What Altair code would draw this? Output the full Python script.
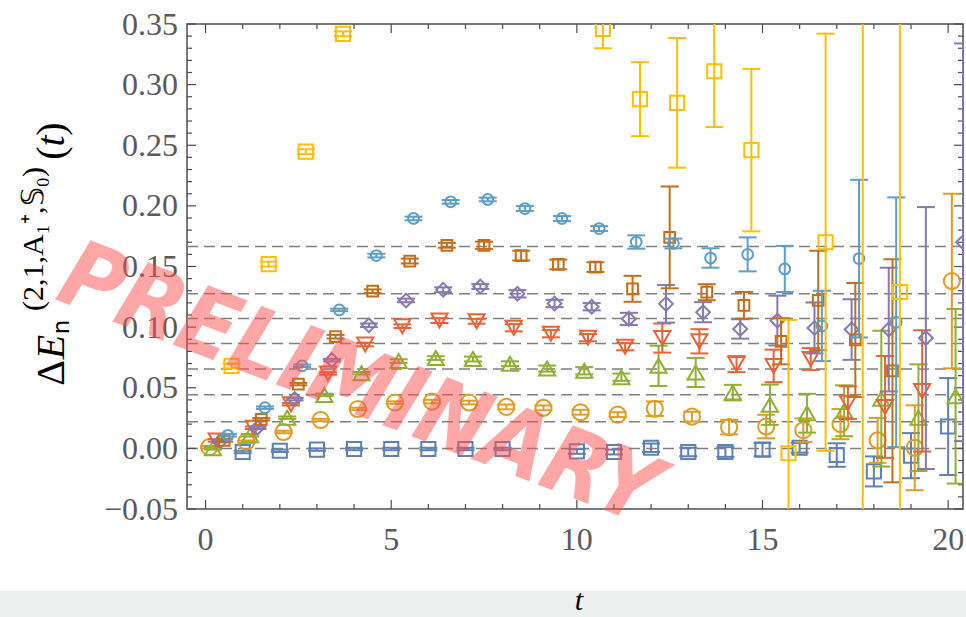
import altair as alt
import pandas as pd

# ---------------------------------------------------------------------------
# Effective energy shifts Delta E_n(t) for the levels n = 0..7.
# Each level is plotted at t + shift so that the points do not overlap.
# ---------------------------------------------------------------------------
shifts = [0.0, 0.1, 0.2, 0.3, 0.4, 0.5, 0.6, 0.7]

n0_t = [1, 2, 3, 4, 5, 6, 7, 8, 10, 11, 12, 13, 14, 15, 16, 17, 18, 19, 20]
n0_v = [-0.003, -0.002, -0.001, -0.0005, -0.0005, -0.0005, -0.0005, -0.0005, -0.0025,
        -0.003, 0.0005, -0.003, -0.003, -0.001, 0.0005, -0.0055, -0.019, -0.006, 0.018]
n0_e = [0.001, 0.001, 0.001, 0.001, 0.001, 0.001, 0.001, 0.001, 0.002, 0.002, 0.0035,
        0.0035, 0.004, 0.0055, 0.004, 0.0097, 0.0124, 0.0186, 0.040]

n1_t = list(range(0, 21))
n1_v = [0.001, 0.0055, 0.0135, 0.0234, 0.0325, 0.0378, 0.0386, 0.0378, 0.0342, 0.0334,
        0.0298, 0.0278, 0.0327, 0.0262, 0.0175, 0.018, 0.015, 0.020, 0.0066, 0.0005, 0.138]
n1_e = [0.001, 0.001, 0.001, 0.001, 0.001, 0.001, 0.0015, 0.0015, 0.002, 0.002, 0.002,
        0.002, 0.006, 0.004, 0.006, 0.0097, 0.0097, 0.0124, 0.0185, 0.035, 0.072]

n2_t = list(range(0, 21))
n2_v = [0.0, 0.0108, 0.0253, 0.0441, 0.062, 0.072, 0.0745, 0.0737, 0.0698, 0.0658,
        0.064, 0.0587, 0.0681, 0.0626, 0.046, 0.036, 0.029, 0.031, 0.041, 0.0253, 0.043]
n2_e = [0.001, 0.001, 0.001, 0.001, 0.001, 0.0015, 0.0015, 0.002, 0.002, 0.0025, 0.003,
        0.003, 0.0166, 0.012, 0.0064, 0.0166, 0.016, 0.021, 0.056, 0.044, 0.072]

n3_t = list(range(0, 20))
n3_v = [0.0066, 0.017, 0.0364, 0.0618, 0.0857, 0.1008, 0.1054, 0.1048, 0.0995, 0.0946,
        0.0913, 0.0839, 0.091, 0.0883, 0.0695, 0.068, 0.0737, 0.0377, 0.0342, 0.0474]
n3_e = [0.001, 0.001, 0.001, 0.001, 0.0015, 0.0015, 0.002, 0.002, 0.003, 0.003, 0.003,
        0.003, 0.012, 0.010, 0.0066, 0.0134, 0.009, 0.0135, 0.042, 0.050]

n4_t = list(range(0, 21))
n4_v = [0.006, 0.017, 0.0406, 0.0728, 0.1015, 0.122, 0.1308, 0.1335, 0.1275, 0.1195,
        0.1168, 0.1068, 0.1192, 0.1123, 0.0985, 0.1054, 0.0993, 0.098, 0.098, 0.091, 0.170]
n4_e = [0.001, 0.001, 0.001, 0.001, 0.0015, 0.0015, 0.002, 0.002, 0.003, 0.003, 0.003,
        0.005, 0.0155, 0.0083, 0.008, 0.0205, 0.021, 0.025, 0.051, 0.108, 0.164]

n5_t = list(range(0, 19))
n5_v = [0.0066, 0.024, 0.053, 0.0921, 0.1296, 0.1545, 0.1675, 0.1675, 0.159, 0.1517,
        0.1495, 0.1316, 0.174, 0.1288, 0.118, 0.0883, 0.122, 0.0894, 0.064]
n5_e = [0.001, 0.001, 0.001, 0.0015, 0.0015, 0.002, 0.002, 0.003, 0.004, 0.004, 0.004,
        0.0107, 0.042, 0.0066, 0.011, 0.019, 0.041, 0.047, 0.092]

n6_t = list(range(0, 19))
n6_v = [0.0108, 0.0336, 0.0681, 0.1142, 0.159, 0.1896, 0.2033, 0.2053, 0.1978, 0.1896,
        0.1813, 0.1702, 0.169, 0.157, 0.160, 0.148, 0.101, 0.1565, 0.104]
n6_e = [0.001, 0.001, 0.001, 0.001, 0.0015, 0.0015, 0.0015, 0.0015, 0.002, 0.002, 0.002,
        0.0055, 0.004, 0.008, 0.014, 0.019, 0.029, 0.065, 0.103]

n7_t = [0, 1, 2, 3, 10, 11, 12, 13, 14, 15, 16, 17, 18]
n7_v = [0.068, 0.152, 0.2447, 0.3419, 0.346, 0.288, 0.285, 0.311, 0.246, -0.004, 0.170,
        0.42, 0.129]
n7_e = [0.002, 0.002, 0.002, 0.002, 0.016, 0.0305, 0.0535, 0.046, 0.067, 0.110, 0.172,
        0.60, 0.30]

# non-interacting reference levels (dashed lines)
levels = [0.0, 0.022, 0.0443, 0.0655, 0.0865, 0.1072, 0.1276, 0.1664]

# axis tick values and their labels
x_labels = [0, 5, 10, 15, 20]
x_label_text = ["0", "5", "10", "15", "20"]
x_minor = [k for k in range(0, 21) if k % 5]
y_labels = [-0.05, 0.0, 0.05, 0.10, 0.15, 0.20, 0.25, 0.30, 0.35]
y_label_text = ["\u22120.05", "0.00", "0.05", "0.10", "0.15", "0.20", "0.25", "0.30", "0.35"]
y_minor = [k / 100 for k in range(-5, 36) if k % 5]

# ---------------------------------------------------------------------------
series = [
    ("n0", "#5E81B5", "square", 200, n0_t, n0_v, n0_e),
    ("n1", "#E19C24", "circle", 260, n1_t, n1_v, n1_e),
    ("n2", "#8FB032", "triangle-up", 260, n2_t, n2_v, n2_e),
    ("n3", "#EB6235", "triangle-down", 260, n3_t, n3_v, n3_e),
    ("n4", "#8778B3", "diamond", 190, n4_t, n4_v, n4_e),
    ("n5", "#C56E1A", "square", 115, n5_t, n5_v, n5_e),
    ("n6", "#5D9EC7", "circle", 115, n6_t, n6_v, n6_e),
    ("n7", "#FFBF00", "square", 200, n7_t, n7_v, n7_e),
]

W, H = 776, 485
AX = "#4d4d4d"
LABEL_FONT = "Liberation Serif"
LABEL_COLOR = "#5a5a5a"

xs = alt.Scale(domain=[-0.5, 20.4], nice=False, zero=False)
ys = alt.Scale(domain=[-0.05, 0.35], nice=False, zero=False)

layers = []

# dashed reference levels
lev_df = pd.DataFrame({"level": levels})
layers.append(
    alt.Chart(lev_df).mark_rule(color="#808080", strokeWidth=1.5, strokeDash=[11, 6]).encode(
        y=alt.Y("level:Q", scale=ys, axis=None),
        x=alt.value(0), x2=alt.value(W),
    )
)


# inward ticks on all four sides
def x_ticks(vals, length):
    d = pd.DataFrame({"t": vals})
    X = alt.X("t:Q", scale=xs, axis=None)
    bottom = alt.Chart(d).mark_rule(color=AX, strokeWidth=1.2).encode(
        x=X, y=alt.value(H), y2=alt.value(H - length))
    top = alt.Chart(d).mark_rule(color=AX, strokeWidth=1.2).encode(
        x=X, y=alt.value(0), y2=alt.value(length))
    return [bottom, top]


def y_ticks(vals, length):
    d = pd.DataFrame({"v": vals})
    Y = alt.Y("v:Q", scale=ys, axis=None)
    left = alt.Chart(d).mark_rule(color=AX, strokeWidth=1.2).encode(
        y=Y, x=alt.value(0), x2=alt.value(length))
    right = alt.Chart(d).mark_rule(color=AX, strokeWidth=1.2).encode(
        y=Y, x=alt.value(W), x2=alt.value(W - length))
    return [left, right]


layers += x_ticks(x_labels, 9)
layers += x_ticks(x_minor, 5)
layers += y_ticks(y_labels, 9)
layers += y_ticks(y_minor, 5)

# tick labels, placed through the same scales
xl = pd.DataFrame({"t": x_labels, "label": x_label_text})
layers.append(alt.Chart(xl).mark_text(
    font=LABEL_FONT, fontSize=32, color=LABEL_COLOR, align="center", baseline="alphabetic",
).encode(x=alt.X("t:Q", scale=xs, axis=None), y=alt.value(H + 41), text="label:N"))

yl = pd.DataFrame({"v": y_labels, "label": y_label_text})
layers.append(alt.Chart(yl).mark_text(
    font=LABEL_FONT, fontSize=32, color=LABEL_COLOR, align="right", baseline="alphabetic", dy=10.5,
).encode(y=alt.Y("v:Q", scale=ys, axis=None), x=alt.value(-9), text="label:N"))

# data: error bars, caps and open markers, level by level
for (name, color, shape, size, ts, vs, es), shift in zip(series, shifts):
    d = pd.DataFrame({
        "t": [t + shift for t in ts],
        "v": vs,
        "lo": [v - e for v, e in zip(vs, es)],
        "hi": [v + e for v, e in zip(vs, es)],
    })
    c = alt.Chart(d)
    X = alt.X("t:Q", scale=xs, axis=None)
    layers.append(c.mark_rule(color=color, strokeWidth=2, clip=True).encode(
        x=X, y=alt.Y("lo:Q", scale=ys, axis=None), y2="hi:Q"))
    for edge in ("lo", "hi"):
        layers.append(c.mark_rule(color=color, strokeWidth=2, clip=True,
                                  xOffset=-9, x2Offset=9).encode(
            x=X, x2="t:Q", y=alt.Y(f"{edge}:Q", scale=ys, axis=None)))
    layers.append(c.mark_point(shape=shape, size=size, filled=False, color=color,
                               strokeWidth=2, opacity=1, clip=True).encode(
        x=X, y=alt.Y("v:Q", scale=ys, axis=None)))

one = pd.DataFrame({"k": [0]})

# watermark
layers.append(alt.Chart(one).mark_text(
    text="PRELIMINARY", font="Liberation Sans Narrow, DejaVu Sans Condensed, DejaVu Sans",
    fontWeight="bold", fontStyle="italic", fontSize=93, angle=21,
    color="#ff5050", opacity=0.5, align="center", baseline="middle",
).encode(x=alt.value(172), y=alt.value(362)))

# grey strip under the plot holding the x title
layers.append(alt.Chart(one).mark_rect(color="#eef0ef", clip=False).encode(
    x=alt.value(-187), x2=alt.value(W + 3), y=alt.value(567), y2=alt.value(593)))
layers.append(alt.Chart(one).mark_text(
    text="t", font=LABEL_FONT, fontStyle="italic", fontSize=30, color="black",
    align="center", baseline="alphabetic").encode(x=alt.value(392), y=alt.value(586)))


# y title, assembled piece by piece (rotated)
def ytext(txt, x, y, size, style="normal", weight="normal", font=LABEL_FONT):
    return alt.Chart(one).mark_text(
        text=txt, font=font, fontSize=size, fontStyle=style, fontWeight=weight,
        angle=270, color="black", align="center", baseline="alphabetic",
    ).encode(x=alt.value(x), y=alt.value(y))


layers += [
    ytext("\u0394", -123, 349, 40),
    ytext("E", -123, 323, 40, style="italic"),
    ytext("n", -118, 303, 23, font="DejaVu Sans"),
    ytext("(2,1,A\u2081\u207a,\U0001D54A\u2080)", -144, 215, 30),
    ytext("(", -123, 129, 40),
    ytext("t", -123, 117, 40, style="italic"),
    ytext(")", -123, 105, 40),
]

chart = alt.layer(*layers).properties(
    width=W, height=H,
    autosize=alt.AutoSizeParams(type="none"),
    padding={"left": 187, "top": 24, "right": 3, "bottom": 108},
    background="white",
).configure_view(stroke=AX, strokeWidth=1.5)

chart.save("out.html", embed_options={"renderer": "svg", "actions": False})
